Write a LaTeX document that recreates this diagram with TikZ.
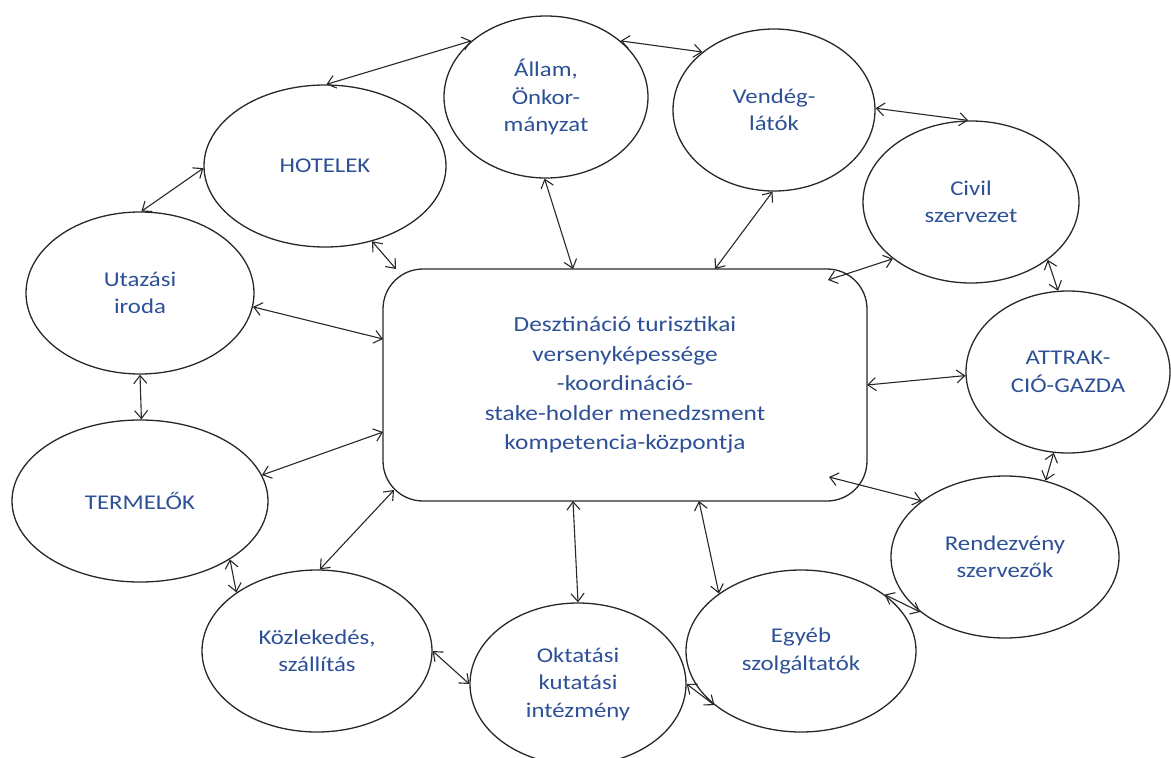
\documentclass[tikz,border=0pt]{standalone}
\usepackage{fontspec}
\setmainfont{Carlito}[FakeStretch=1.18]
\usetikzlibrary{arrows.meta,calc,shapes.geometric}
\definecolor{txtblue}{RGB}{45,80,150}
\definecolor{edgegray}{RGB}{40,40,40}
\begin{document}
\begin{tikzpicture}[x=1pt,y=-1pt,
  actor/.style={ellipse, draw=edgegray, line width=1.3pt, inner sep=0pt,
    minimum height=162pt, text=txtblue, align=center,
    font=\fontsize{21}{27.5}\selectfont},
  hub/.style={rectangle, rounded corners=40pt, draw=edgegray, line width=1.3pt,
    minimum width=484pt, minimum height=232pt, text=txtblue, align=center,
    font=\fontsize{21.5}{29.5}\selectfont},
  link/.style={draw=edgegray, line width=1.1pt,
    {Straight Barb[length=8pt,width=13pt]}-{Straight Barb[length=8pt,width=13pt]}}
]
\useasboundingbox (0,0) rectangle (1171,758);

% central hub
\node[hub] (hub) at (625,385)
  {Desztináció turisztikai\\versenyképessége\\-koordináció-\\stake-holder menedzsment\\kompetencia-központja};

% stakeholders around the hub
\node[actor, minimum width=242pt] (hotel)  at (325,166) {HOTELEK};
\node[actor, minimum width=204pt] (allam)  at (546,97)  {Állam,\\Önkor-\\mányzat};
\node[actor, minimum width=202pt] (vendeg) at (774,110) {Vendég-\\látók};
\node[actor, minimum width=216pt] (civil)  at (971,202) {Civil\\szervezet};
\node[actor, minimum width=204pt] (attrak) at (1068,372) {ATTRAK-\\CIÓ-GAZDA};
\node[actor, minimum width=228pt] (rendez) at (1005,557) {Rendezvény\\szervezők};
\node[actor, minimum width=230pt] (egyeb)  at (801,651) {Egyéb\\szolgáltatók};
\node[actor, minimum width=216pt] (oktat)  at (578,684) {Oktatási\\kutatási\\intézmény};
\node[actor, minimum width=230pt] (kozlek) at (317,651) {Közlekedés,\\szállítás};
\node[actor, minimum width=256pt] (termel) at (140,501) {TERMELŐK};
\node[actor, minimum width=228pt] (utazas) at (140,293) {Utazási\\iroda};

% ring connections
\draw[link] (hotel.89)   -- (allam.143);
\draw[link] (allam.37)   -- (vendeg.141);
\draw[link] (vendeg.1)   -- (civil.92);
\draw[link] (civil.-37)  -- (attrak.97);
\draw[link] (attrak.-100) -- (rendez.62);
\draw[link] (rendez.-147) -- (egyeb.34);
\draw[link] (egyeb.212)  -- (oktat.0);
\draw[link] (oktat.180)  -- (kozlek.0);
\draw[link] (kozlek.144) -- (termel.-33);
\draw[link] (termel.89)  -- (utazas.-90);
\draw[link] (utazas.89)  -- (hotel.181);

% spokes to the hub
\draw[link] (hotel.-58)   -- ($(hub)+(-229,-116)$);
\draw[link] (allam.-91)   -- ($(hub)+(-52,-116)$);
\draw[link] (vendeg.-91)  -- ($(hub)+(90,-116)$);
\draw[link] (civil.-144)  -- ($(hub)+(203,-105)$);
\draw[link] (attrak.182)  -- ($(hub)+(242,0)$);
\draw[link] (rendez.146)  -- ($(hub)+(204,92)$);
\draw[link] (egyeb.145)   -- ($(hub)+(74,116)$);
\draw[link] (oktat.90)    -- ($(hub)+(-52,116)$);
\draw[link] (kozlek.88)   -- ($(hub)+(-231,105)$);
\draw[link] (termel.12)   -- ($(hub)+(-242,47)$);
\draw[link] (utazas.-7)   -- ($(hub)+(-242,-46)$);
\end{tikzpicture}
\end{document}
